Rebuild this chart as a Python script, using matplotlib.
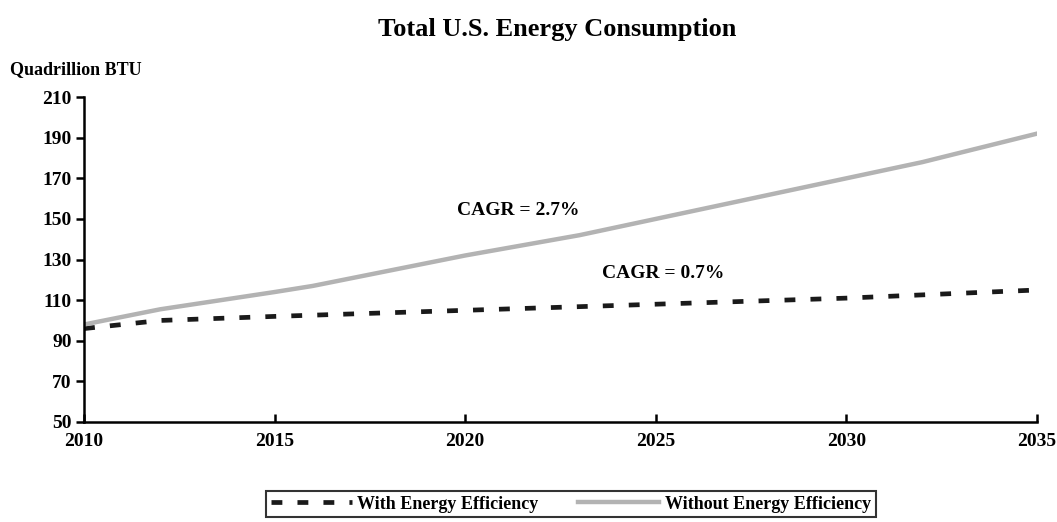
import matplotlib
matplotlib.use('Agg')
import matplotlib.pyplot as plt

years = [2010, 2012, 2015, 2016, 2020, 2023, 2025, 2030, 2032, 2035]
without_ee = [98, 105.5, 114, 117, 132, 142, 150, 170, 178, 192]
eff_years = [2010, 2012, 2015, 2020, 2025, 2030, 2035]
with_ee = [96, 100, 102, 105, 108, 111, 115]
yticks = list(range(50, 211, 20))
xticks = [2010, 2015, 2020, 2025, 2030, 2035]

plt.rcParams['font.family'] = ['Liberation Serif', 'DejaVu Serif']
plt.rcParams['font.weight'] = 'bold'

fig = plt.figure(figsize=(10.57, 5.22), dpi=100)
ax = fig.add_axes([0.0795, 0.1916, 0.9015, 0.6224])

ax.plot(eff_years, with_ee, color='#1a1a1a', lw=3.4, ls=(0, (2.3, 3.2)),
        dash_capstyle='butt', label='With Energy Efficiency')
ax.plot(years, without_ee, color='#b3b3b3', lw=3.2,
        label='Without Energy Efficiency')

ax.set_xlim(2010, 2035)
ax.set_ylim(50, 210)
ax.set_yticks(yticks)
ax.set_xticks(xticks)
ax.spines['top'].set_visible(False)
ax.spines['right'].set_visible(False)
ax.spines['left'].set_linewidth(1.8)
ax.spines['bottom'].set_linewidth(1.8)
ax.tick_params(axis='y', direction='out', length=6, width=1.8, labelsize=14, pad=3)
ax.tick_params(axis='x', direction='in', length=6, width=1.8, labelsize=14, pad=8)
for lbl in ax.get_xticklabels() + ax.get_yticklabels():
    lbl.set_fontweight('bold')

fig.text(10 / 1057, 1 - 70 / 522, 'Quadrillion BTU', ha='left', va='center',
         fontsize=13, fontweight='bold')
ax.text(2021.4, 154, 'CAGR = 2.7%', ha='center', va='center', fontsize=14,
        fontweight='bold')
ax.text(2025.2, 123, 'CAGR = 0.7%', ha='center', va='center', fontsize=14,
        fontweight='bold')

fig.text(0.527, 0.943, 'Total U.S. Energy Consumption', ha='center', va='center',
         fontsize=19, fontweight='bold')

leg = fig.legend(loc='center', bbox_to_anchor=(0.54, 0.034), ncol=2,
                 frameon=True, fancybox=False, edgecolor='black',
                 prop={'size': 13, 'weight': 'bold'}, handlelength=4.5,
                 columnspacing=2.2, borderpad=0.25, handletextpad=0.3)
leg.get_frame().set_linewidth(1.5)

fig.savefig('out.png', dpi=100)
